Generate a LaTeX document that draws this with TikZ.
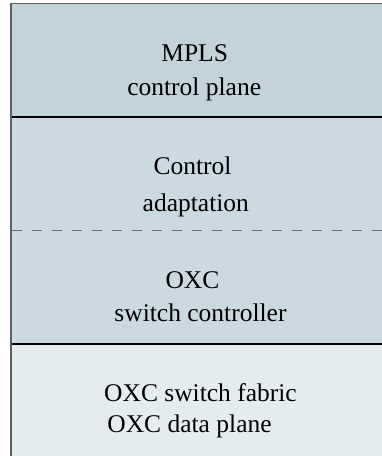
\documentclass[tikz,border=0pt]{standalone}
\usepackage{fontspec}
\setmainfont{Liberation Serif}
\definecolor{topc}{RGB}{194,211,219}
\definecolor{midc}{RGB}{203,218,226}
\definecolor{botc}{RGB}{228,236,240}
\definecolor{bordc}{RGB}{95,95,95}
\definecolor{dashc}{RGB}{110,110,110}
\tikzset{
  lbl/.style={anchor=base, inner sep=0pt, font=\fontsize{25.5}{30}\selectfont, text=black},
  sepline/.style={draw=black, line width=1.1pt},
  dashline/.style={draw=dashc, line width=1.4pt, dash pattern=on 9.5pt off 10.5pt},
  border/.style={draw=bordc, line width=1.4pt}
}
\begin{document}
\begin{tikzpicture}[x=1pt,y=-1pt]
\useasboundingbox (0,0) rectangle (382,456);
\clip (0,0) rectangle (382,456);
\fill[topc] (11,3.6) rectangle (400,117);
\fill[midc] (11,117) rectangle (400,344);
\fill[botc] (11,344) rectangle (400,470);
\coordinate (s1l) at (11,117);
\coordinate (s1r) at (400,117);
\coordinate (s2l) at (11,344);
\coordinate (s2r) at (400,344);
\coordinate (dl) at (12,230.7);
\coordinate (dr) at (400,230.7);
\coordinate (bl) at (11,470);
\coordinate (tl) at (11,3.6);
\coordinate (tr) at (400,3.6);
\draw[sepline] (s1l) -- (s1r);
\draw[sepline] (s2l) -- (s2r);
\draw[dashline] (dl) -- (dr);
\draw[border] (bl) -- (tl) -- (tr);
\node[lbl] (mpls) at (194.7,61.7) {MPLS};
\node[lbl] (cplane) at (194.2,95) {control plane};
\node[lbl] (ctrl) at (192.5,174) {Control};
\node[lbl] (adapt) at (195.8,211.7) {adaptation};
\node[lbl] (oxc) at (192.5,288.3) {OXC};
\node[lbl] (swc) at (200.5,321.7) {switch controller};
\node[lbl] (fabric) at (200.5,401) {OXC switch fabric};
\node[lbl] (dplane) at (189.5,432.5) {OXC data plane};
\end{tikzpicture}
\end{document}
